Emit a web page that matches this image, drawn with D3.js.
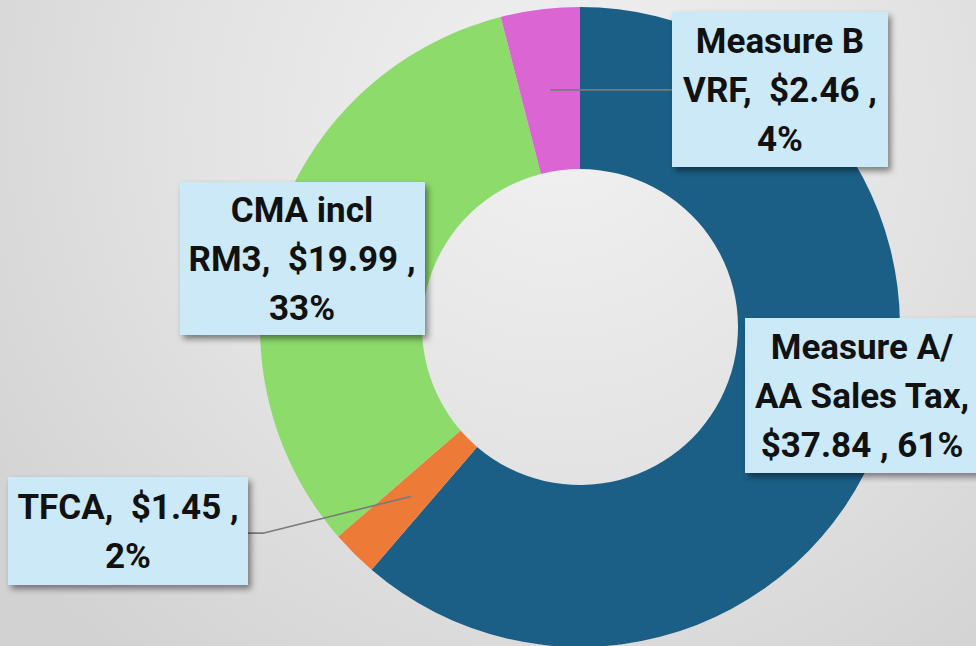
<!DOCTYPE html>
<html>
<head>
<meta charset="utf-8">
<script src="https://cdn.jsdelivr.net/npm/d3@7"></script>
<style>
  html, body { margin: 0; padding: 0; overflow: hidden; }
  svg { display: block; }
</style>
</head>
<body>
<svg id="viz"></svg>
<script>
// chart size
var width = 976,
    height = 646;

// funding sources (in $M), clockwise from 12 o'clock
var categories = ["Measure A/ AA Sales Tax", "TFCA", "CMA incl RM3", "Measure B VRF"];
var amounts = [37.84, 1.45, 19.99, 2.46];
var percents = ["61%", "2%", "33%", "4%"];
var sliceColors = ["#1b5f86", "#ee7a38", "#8ddb6b", "#db66d3"];

// label text, one array of lines per slice
var labelLines = [
    ["Measure A/", "AA Sales Tax,", "$37.84 , 61%"],
    ["TFCA,  $1.45 ,", "2%"],
    ["CMA incl", "RM3,  $19.99 ,", "33%"],
    ["Measure B", "VRF,  $2.46 ,", "4%"]
];

// label box placement (left, top, width, height), text centre and whether a leader line is drawn
var boxes = [
    {x: 745, y: 318, w: 240, h: 155, tx: 862, leader: false},
    {x: 8, y: 477, w: 240, h: 108, tx: 128, leader: true},
    {x: 180, y: 182, w: 245, h: 153, tx: 302, leader: false},
    {x: 672, y: 12, w: 216, h: 155, tx: 780, leader: true}
];

var cx = 580, cy = 327,
    outerR = 320, innerR = 158;

var svg = d3.select("#viz").attr("width", width).attr("height", height);
var defs = svg.append("defs");

// soft grey background, lighter near the top middle
var bg = defs.append("radialGradient").attr("id", "bg")
    .attr("gradientUnits", "userSpaceOnUse")
    .attr("cx", 560).attr("cy", 120).attr("r", 700);
bg.append("stop").attr("offset", "0%").attr("stop-color", "#f1f1f1");
bg.append("stop").attr("offset", "55%").attr("stop-color", "#e2e2e2");
bg.append("stop").attr("offset", "100%").attr("stop-color", "#d2d2d2");

// drop shadow under label boxes
var shadow = defs.append("filter").attr("id", "shadow")
    .attr("x", "-10%").attr("y", "-10%").attr("width", "130%").attr("height", "130%");
shadow.append("feDropShadow")
    .attr("dx", 3).attr("dy", 4).attr("stdDeviation", 3)
    .attr("flood-color", "#000").attr("flood-opacity", 0.45);

svg.append("rect").attr("width", width).attr("height", height).attr("fill", "url(#bg)");

var pie = d3.pie().sort(null).value(function(d) { return d; });
var arcs = pie(amounts);

var arc = d3.arc().innerRadius(innerR).outerRadius(outerR);

var chart = svg.append("g").attr("transform", "translate(" + cx + "," + cy + ")");

chart.selectAll("path")
    .data(arcs)
    .enter()
    .append("path")
    .attr("d", arc)
    .attr("fill", function(d, i) { return sliceColors[i]; });

// leader lines from slice centroid to the label box
arcs.forEach(function(d, i) {
    var b = boxes[i];
    if (!b.leader) return;
    var c = arc.centroid(d);
    var px = cx + c[0], py = cy + c[1];
    var pts;
    if (b.x > cx) {
        pts = [[px, py], [b.x, py]];
    } else {
        var ey = b.y + b.h * 0.52;
        pts = [[px, py], [b.x + b.w + 15, ey], [b.x + b.w, ey]];
    }
    svg.append("path")
        .attr("d", d3.line()(pts))
        .attr("fill", "none")
        .attr("stroke", "#7a7a7a")
        .attr("stroke-width", 1.6);
});

// label boxes
var labels = svg.selectAll("g.label")
    .data(boxes)
    .enter()
    .append("g")
    .attr("class", "label");

labels.append("rect")
    .attr("x", function(d) { return d.x; })
    .attr("y", function(d) { return d.y; })
    .attr("width", function(d) { return d.w; })
    .attr("height", function(d) { return d.h; })
    .attr("fill", "#cce9f8")
    .attr("filter", "url(#shadow)");

labels.each(function(b, i) {
    var lines = labelLines[i];
    var lineH = 49;
    var firstBase = b.y + b.h / 2 - (lines.length - 1) * lineH / 2 + 12;
    d3.select(this).selectAll("text")
        .data(lines)
        .enter()
        .append("text")
        .attr("x", b.tx)
        .attr("y", function(t, j) { return firstBase + j * lineH; })
        .attr("text-anchor", "middle")
        .style("white-space", "pre")
        .style("font-family", "Roboto, 'Liberation Sans', sans-serif")
        .style("font-weight", 700)
        .style("font-size", "35px")
        .style("fill", "#111")
        .text(function(t) { return t; });
});
</script>
</body>
</html>
